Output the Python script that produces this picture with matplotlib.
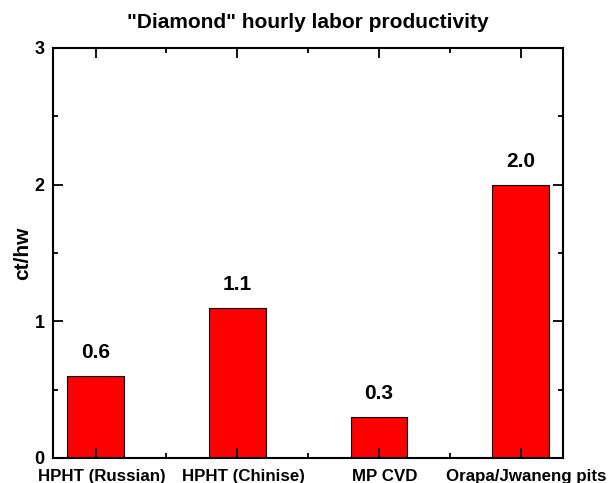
import matplotlib
matplotlib.use('Agg')
import matplotlib.pyplot as plt
import matplotlib.transforms as mtransforms
from matplotlib.ticker import MultipleLocator, FixedLocator

plt.rcParams['font.family'] = ['Liberation Sans', 'DejaVu Sans']
plt.rcParams['font.weight'] = 'bold'

# data
categories = ['HPHT (Russian)', 'HPHT (Chinise)', 'MP CVD', 'Orapa/Jwaneng pits']
values = [0.6, 1.1, 0.3, 2.0]
y_ticks = [0, 1, 2, 3]

fig = plt.figure(figsize=(6.10, 4.83), dpi=100)
ax = fig.add_axes([0.087, 0.052, 0.836, 0.849])

pos = list(range(len(categories)))
ax.bar(pos, values, width=0.4, color='#ff0000', edgecolor='black', linewidth=0.8)

for x, v in zip(pos, values):
    ax.text(x, v + 0.10, f'{v:.1f}', ha='center', va='bottom', fontsize=15, fontweight='bold')

ax.set_xlim(-0.3, 3.3)
ax.set_ylim(0, 3)
ax.set_xticks(pos)
ax.set_xticklabels(categories)
ax.xaxis.set_minor_locator(FixedLocator([0.5, 1.5, 2.5]))
ax.set_yticks(y_ticks)
ax.yaxis.set_minor_locator(MultipleLocator(0.5))

ax.tick_params(which='both', direction='in', top=True, right=True, width=1.3)
ax.tick_params(which='major', length=7)
ax.tick_params(which='minor', length=3.5)
ax.tick_params(axis='x', labelsize=12.2, pad=8)
ax.tick_params(axis='y', labelsize=13, pad=6)
for s in ax.spines.values():
    s.set_linewidth(1.5)

# labels sit slightly right of the bar centres in the original
shift = mtransforms.ScaledTranslation(6 / 100, 0, fig.dpi_scale_trans)
for lbl in ax.get_xticklabels():
    lbl.set_transform(lbl.get_transform() + shift)

ax.set_ylabel('ct/hw', fontsize=15, fontweight='bold', labelpad=2)
ax.set_title('"Diamond" hourly labor productivity', fontsize=15, fontweight='bold', pad=14)

fig.savefig('out.png', dpi=100)
